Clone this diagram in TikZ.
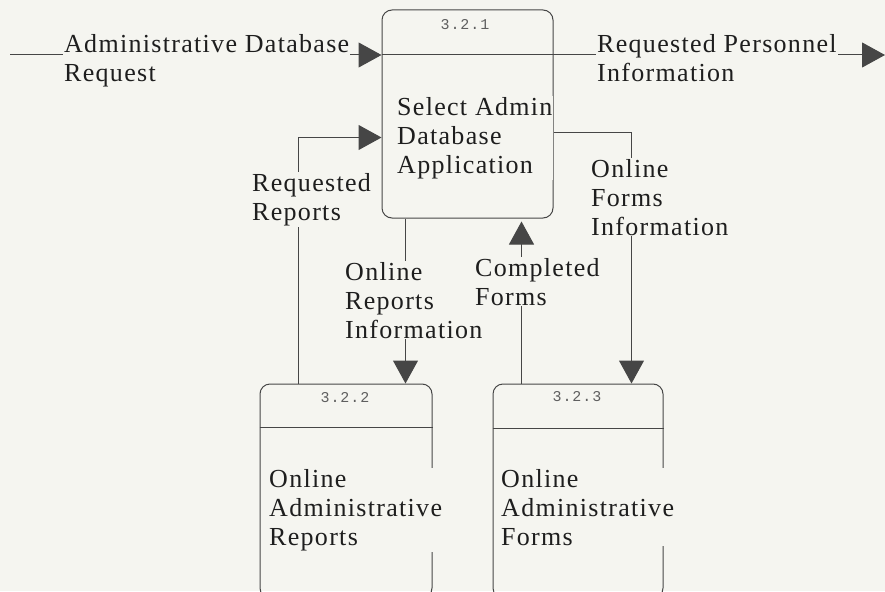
\documentclass[tikz,border=0pt]{standalone}
\usepackage{fontspec}
\setmainfont{Liberation Serif}[LetterSpace=5.0]
\newfontfamily\idfont{Liberation Mono}[LetterSpace=6.0]
\usetikzlibrary{arrows.meta,calc}
\definecolor{bg}{RGB}{245,245,240}
\definecolor{ln}{RGB}{70,70,70}
\definecolor{tx}{RGB}{30,30,30}
\definecolor{idc}{RGB}{95,95,95}
\tikzset{
  procbox/.style={draw=ln, line width=1pt, rounded corners=10pt, inner sep=0pt},
  flow/.style={draw=ln, line width=1pt, -{Triangle[length=23pt,width=25pt]}},
  plain/.style={draw=ln, line width=1pt},
  lbl/.style={text=tx, font=\fontsize{26}{29}\selectfont, align=left, inner sep=1pt, anchor=base west},
  flbl/.style={lbl, fill=bg},
  idlbl/.style={text=idc, font=\idfont\fontsize{15}{17}\selectfont, inner sep=0pt}
}
\begin{document}
\begin{tikzpicture}[x=1pt,y=-1pt]
\fill[bg] (0,0) rectangle (885,591);
\path[use as bounding box] (0,0) rectangle (885,591);
\clip (0,0) rectangle (885,591);
% boxes
\node[procbox, minimum width=171pt, minimum height=208pt] (p1) at (467.5,114) {};
\node[procbox, minimum width=172pt, minimum height=214pt] (p2) at (346,491) {};
\node[procbox, minimum width=170pt, minimum height=214pt] (p3) at (578,491) {};
% dividers
\draw[plain] (p1.north west |- 0,55) -- (p1.north east |- 0,55);
\draw[plain] (p2.north west |- 0,427) -- (p2.north east |- 0,427);
\draw[plain] (p3.north west |- 0,428) -- (p3.north east |- 0,428);
% ids
\node[idlbl] (i1) at (465,25) {3.2.1};
\node[idlbl] (i2) at (345,398) {3.2.2};
\node[idlbl] (i3) at (577,397) {3.2.3};
% box texts (anchor = baseline of last line)
\node[flbl] (t1) at (396,173) {Select Admin\\Database\\Application};
\node[flbl] (t2) at (268,545) {Online\\Administrative\\Reports};
\node[flbl] (t3) at (500,545) {Online\\Administrative\\Forms};
% external flows
\coordinate (src) at (10,55);
\coordinate (snk) at (885,55);
\draw[flow] (src) -- (p1.west |- src);
\draw[flow] (p1.east |- snk) -- (snk);
% internal flows
\draw[flow] ($(p2.north west)+(39,0)$) |- ($(p1.north west)+(0,128)$);
\draw[flow] ($(p1.south west)+(24,0)$) -- ($(p2.north west)+(146,0)$);
\draw[flow] ($(p3.north west)+(29,0)$) -- ($(p1.south west)+(140,3)$);
\draw[flow] ($(p1.north east)+(0,123)$) -| ($(p3.north west)+(139,0)$);
% flow labels
\node[flbl] (l1) at (63,82) {Administrative Database\\Request};
\node[flbl] (l2) at (596,82) {Requested Personnel\\Information};
\node[flbl] (l3) at (251,220) {Requested\\Reports};
\node[flbl] (l4) at (344,338) {Online\\Reports\\Information};
\node[flbl] (l5) at (474,305) {Completed\\Forms};
\node[flbl] (l6) at (590,235) {Online\\Forms\\Information};
\end{tikzpicture}
\end{document}
